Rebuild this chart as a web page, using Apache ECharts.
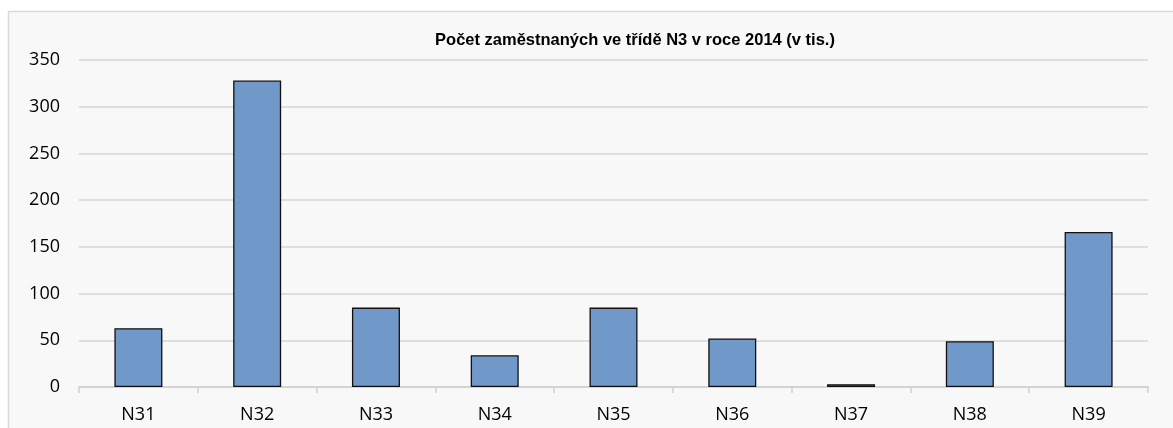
<!DOCTYPE html>
<html>
<head>
<meta charset="utf-8">
<script src="https://cdn.jsdelivr.net/npm/echarts@6/dist/echarts.min.js"></script>
<style>
html,body{margin:0;padding:0;background:#ffffff;}
#chart{width:1173px;height:428px;}
</style>
</head>
<body>
<div id="chart"></div>
<script>
const titleText = 'Počet zaměstnaných ve třídě N3 v roce 2014 (v tis.)';
const categories = ['N31','N32','N33','N34','N35','N36','N37','N38','N39'];
const values = [63, 328, 85, 34, 85, 52, 3, 49, 166];
const yTicks = [0, 50, 100, 150, 200, 250, 300, 350];

const chart = echarts.init(document.getElementById('chart'), null, {renderer:'canvas'});
chart.setOption({
  animation: false,
  backgroundColor: '#ffffff',
  graphic: [{
    type: 'rect',
    silent: true,
    z: -10,
    shape: {x: 8.5, y: 11.5, width: 1180, height: 430},
    style: {fill: '#f8f8f8', stroke: '#d9d9d9', lineWidth: 1.5}
  }],
  title: {
    text: titleText,
    left: 630,
    top: 27,
    textAlign: 'center',
    textStyle: {fontFamily: 'Liberation Sans', fontWeight: 'bold', fontSize: 16.5, color: '#000000'}
  },
  grid: {left: 79, right: 25, top: 60, bottom: 41, containLabel: false},
  xAxis: {
    type: 'category',
    data: categories,
    axisLine: {show: true, lineStyle: {color: '#d0d0d0', width: 1.5}},
    axisTick: {show: true, length: 6, alignWithLabel: false, lineStyle: {color: '#d0d0d0', width: 1.5}},
    axisLabel: {fontFamily: 'Open Sans', fontSize: 18, color: '#000000', margin: 19}
  },
  yAxis: {
    type: 'value',
    min: yTicks[0],
    max: yTicks[yTicks.length - 1],
    interval: 50,
    axisLine: {show: false},
    axisTick: {show: false},
    splitLine: {lineStyle: {color: '#d6d6d6', width: 1.5}},
    axisLabel: {fontFamily: 'Open Sans', fontSize: 18, color: '#000000', margin: 19}
  },
  series: [{
    type: 'bar',
    data: values,
    barWidth: 48,
    itemStyle: {color: '#7098c9', borderColor: '#111111', borderWidth: 1.3}
  }]
});
</script>
</body>
</html>
